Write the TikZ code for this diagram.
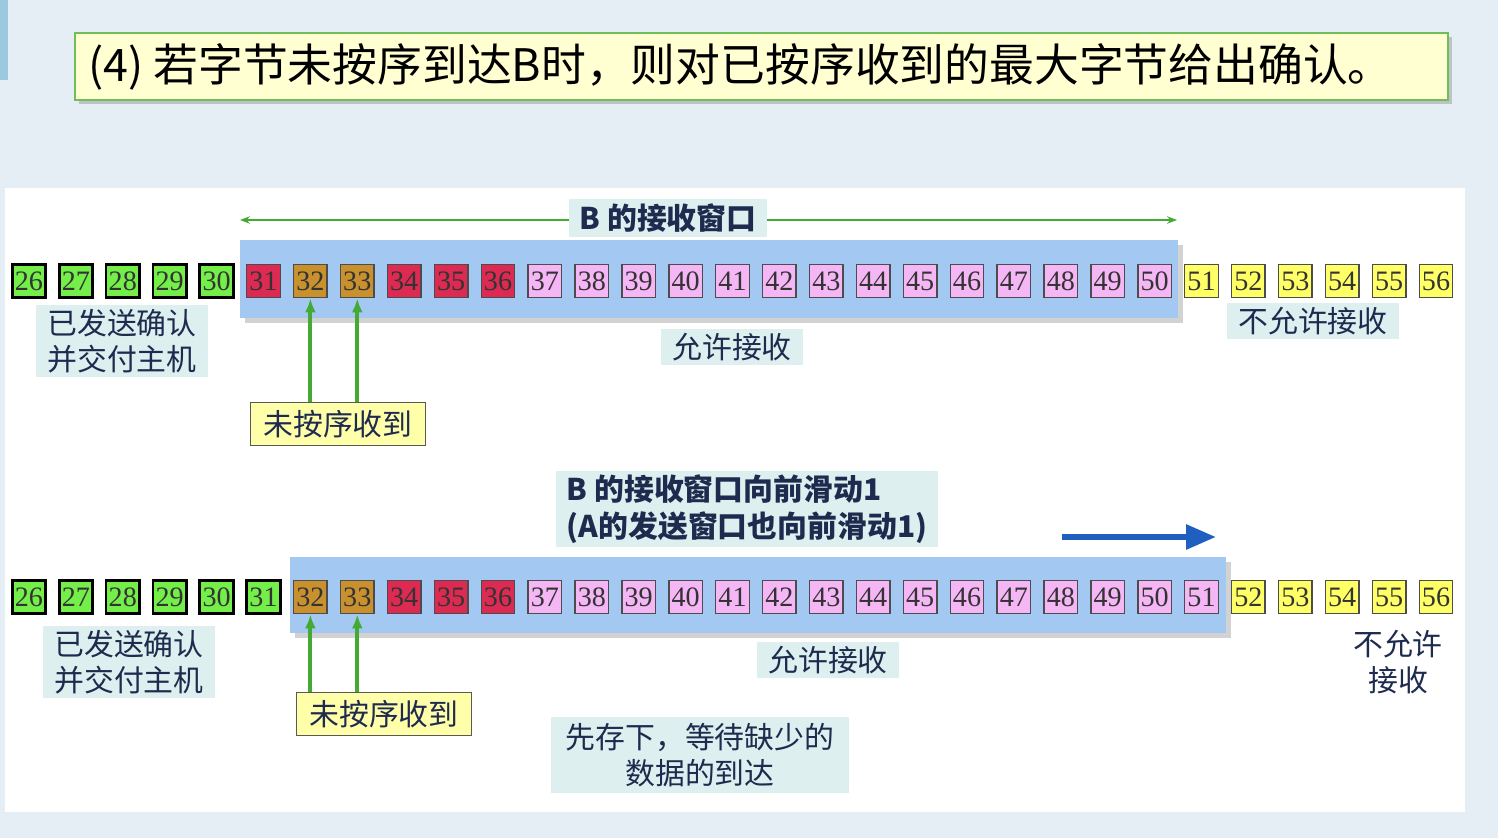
\documentclass[tikz,border=0pt]{standalone}
\usepackage{fontspec}
\setmainfont{Liberation Serif}
\newfontfamily\cjk{Noto Sans CJK SC}
\usepackage{tikz}
\usetikzlibrary{positioning,shadows,arrows.meta}
\definecolor{bgblue}{HTML}{E4EEF4}
\definecolor{stripblue}{HTML}{9CC8E0}
\definecolor{ackgreen}{HTML}{74EE48}
\definecolor{lostred}{HTML}{DC2A52}
\definecolor{earlygold}{HTML}{C8912E}
\definecolor{freepink}{HTML}{F4B6F4}
\definecolor{closedyellow}{HTML}{FFFF66}
\definecolor{winblue}{HTML}{A3C9F2}
\definecolor{labfill}{HTML}{DDEFEE}
\definecolor{navy}{HTML}{1E2B4F}
\definecolor{titlefill}{HTML}{FFFFD2}
\definecolor{titleline}{HTML}{6EBE5A}
\definecolor{notefill}{HTML}{FFFFAA}
\definecolor{arrgreen}{HTML}{44AA33}
\definecolor{slideblue}{HTML}{1F5FC0}
\tikzset{
	seg/.style={draw=black!70, line width=0.8pt, minimum width=0.67cm, minimum height=0.67cm, inner sep=0pt, text=black!80, font=\fontsize{16}{16}\selectfont},
	acked/.style={seg, fill=ackgreen, draw=black, line width=1.6pt},
	lost/.style={seg, fill=lostred},
	early/.style={seg, fill=earlygold},
	free/.style={seg, fill=freepink},
	closed/.style={seg, fill=closedyellow},
	window/.style={fill=winblue, drop shadow={shadow xshift=3pt, shadow yshift=-3pt, fill=gray!70}},
	lab/.style={fill=labfill, text=navy, align=center, inner xsep=0.22cm, inner ysep=0.08cm, font=\cjk\fontsize{17}{20.5}\selectfont},
	note/.style={lab, fill=notefill, draw=black!65, line width=0.6pt, inner xsep=0.26cm, inner ysep=0.16cm},
	uparrow/.style={draw=arrgreen, line width=2.2pt, -{Latex[length=0.28cm,width=0.22cm]}},
}

\begin{document}
\begin{tikzpicture}[x=0.02cm,y=-0.02cm]
	% background and white panel
	\useasboundingbox (0,0) rectangle (1498,838);
	\fill[bgblue] (0,0) rectangle (1498,838);
	\fill[stripblue] (0,0) rectangle (8,80);
	\fill[white] (5,188) rectangle (1465,812);
	
	% title
	\fill[titlefill, draw=titleline, line width=1.2pt, drop shadow={shadow xshift=2.5pt, shadow yshift=-2.5pt, fill=gray!80}] (75,33) rectangle (1448,100);
	\node[anchor=west, inner sep=0pt, font=\cjk\fontsize{25.5}{30}\selectfont] (title) at (88,67) {(4) 若字节未按序到达B时，则对已按序收到的最大字节给出确认。};
	
	% row positions
	\def\rowtop{281}
	\def\rowbot{597}
	
	% upper window
	\path[window] (240,240) rectangle (1178,318);
	\coordinate (wl) at (240,220);
	\coordinate (wr) at (1177,220);
	\draw[arrgreen, line width=0.8pt, {Stealth[length=0.2cm]}-{Stealth[length=0.2cm]}] (wl) -- (wr);
	\node[lab, inner ysep=0.1cm, font=\cjk\bfseries\fontsize{17}{20.5}\selectfont] (winlab) at (668,218) {B 的接收窗口};
	
	% upper row of bytes
	\foreach \n in {26,...,30} \node[acked] (a\n) at ({29+(\n-26)*46.9},\rowtop) {\n};
	\foreach \n in {31,34,35,36} \node[lost] (a\n) at ({29+(\n-26)*46.9},\rowtop) {\n};
	\foreach \n in {32,33} \node[early] (a\n) at ({29+(\n-26)*46.9},\rowtop) {\n};
	\foreach \n in {37,...,50} \node[free] (a\n) at ({29+(\n-26)*46.9},\rowtop) {\n};
	\foreach \n in {51,...,56} \node[closed] (a\n) at ({29+(\n-26)*46.9},\rowtop) {\n};
	
	% upper labels
	\node[lab] (doneA) at (122,341) {已发送确认\\并交付主机};
	\node[lab] (okA) at (732,347) {允许接收};
	\node[lab] (noA) at (1313,321) {不允许接收};
	\node[note] (missA) at (338,424) {未按序收到};
	\draw[uparrow] (missA.north -| a32) -- (a32.south);
	\draw[uparrow] (missA.north -| a33) -- (a33.south);
	
	% lower window, slid by one
	\path[window] (290,557) rectangle (1226,633);
	\node[lab, align=left, font=\cjk\bfseries\fontsize{17}{21}\selectfont] (slidelab) at (747,509) {B 的接收窗口向前滑动1\\(A的发送窗口也向前滑动1)};
	\coordinate (sl) at (1062,537);
	\coordinate (sr) at (1216,537);
	\draw[slideblue, line width=3.4pt, -{Triangle[length=0.6cm,width=0.48cm]}] (sl) -- (sr);
	
	% lower row of bytes
	\foreach \n in {26,...,31} \node[acked] (b\n) at ({29+(\n-26)*46.9},\rowbot) {\n};
	\foreach \n in {32,33} \node[early] (b\n) at ({29+(\n-26)*46.9},\rowbot) {\n};
	\foreach \n in {34,35,36} \node[lost] (b\n) at ({29+(\n-26)*46.9},\rowbot) {\n};
	\foreach \n in {37,...,51} \node[free] (b\n) at ({29+(\n-26)*46.9},\rowbot) {\n};
	\foreach \n in {52,...,56} \node[closed] (b\n) at ({29+(\n-26)*46.9},\rowbot) {\n};
	
	% lower labels
	\node[lab] (doneB) at (129,662) {已发送确认\\并交付主机};
	\node[lab] (okB) at (828,660) {允许接收};
	\node[lab, fill=none] (noB) at (1398,662) {不允许\\接收};
	\node[note] (missB) at (384,714) {未按序收到};
	\draw[uparrow] (missB.north -| b32) -- (b32.south);
	\draw[uparrow] (missB.north -| b33) -- (b33.south);
	\node[lab, inner xsep=0.3cm, inner ysep=0.12cm] (keep) at (700,755) {先存下，等待缺少的\\数据的到达};
	
\end{tikzpicture}
\end{document}
